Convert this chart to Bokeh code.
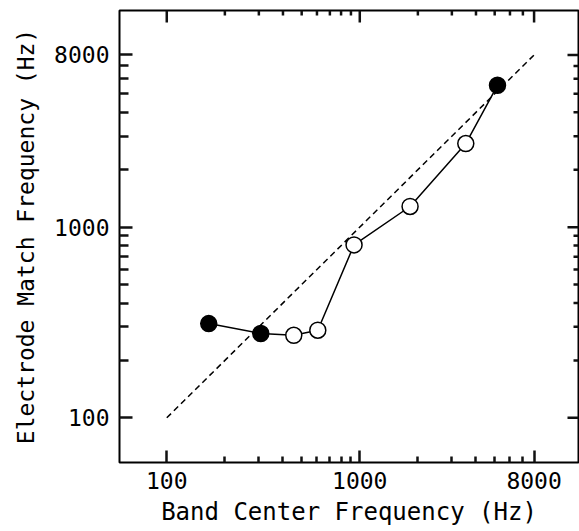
import math
from bokeh.plotting import figure
from bokeh.models import FixedTicker, Range1d
from bokeh.embed import file_html
from bokeh.resources import INLINE

# Data
band_center = [165, 307, 455, 606, 934, 1822, 3542, 5170]
match_freq = [312, 277, 271, 288, 807, 1283, 2744, 5544]
filled = [True, True, False, False, False, False, False, True]
identity_x = [100, 8000]
identity_y = [100, 8000]
tick_values = [100, 1000, 8000]
tick_labels = ["100", "1000", "8000"]
minor_values = [200, 300, 400, 500, 600, 700, 800, 900,
                2000, 3000, 4000, 5000, 6000, 7000]
x_label = "Band Center Frequency (Hz)"
y_label = "Electrode Match Frequency (Hz)"

FONT = "DejaVu Sans Mono"
TICK = "#111111"
W, H = 579, 531
BL, BR, BT, BB = 119, 1, 10, 69

x_range = Range1d(56.9, 13590)
y_range = Range1d(58.3, 13680)

p = figure(width=W, height=H, x_axis_type="log", y_axis_type="log",
           x_range=x_range, y_range=y_range,
           output_backend="svg", toolbar_location=None,
           min_border_left=BL, min_border_right=BR, min_border_top=BT,
           min_border_bottom=BB, x_axis_label=x_label, y_axis_label=y_label)

p.grid.visible = False
p.outline_line_color = "black"
p.outline_line_width = 2

overrides = {v: t for v, t in zip(tick_values, tick_labels)}

xa = p.xaxis[0]
ya = p.yaxis[0]
for ax in (xa, ya):
    ax.ticker = FixedTicker(ticks=tick_values, minor_ticks=minor_values)
    ax.major_tick_out = 0
    ax.minor_tick_out = 0
    ax.major_tick_line_color = TICK
    ax.minor_tick_line_color = TICK
    ax.major_tick_line_width = 2.5
    ax.minor_tick_line_width = 2.5
    ax.major_label_overrides = overrides
    ax.major_label_text_font = FONT
    ax.major_label_text_font_size = "23px"
    ax.major_label_text_color = "black"
    ax.axis_label_text_font = FONT
    ax.axis_label_text_font_style = "normal"
    ax.axis_label_text_color = "black"
xa.major_tick_in = 12
xa.minor_tick_in = 6
ya.major_tick_in = 13
ya.minor_tick_in = 9
xa.major_label_standoff = 9
ya.major_label_standoff = 10
xa.axis_label_text_font_size = "24px"
ya.axis_label_text_font_size = "23px"
xa.axis_label_standoff = 6
ya.axis_label_standoff = 12

# Inward ticks on the top and right frame edges, drawn as segments whose data
# length corresponds to the wanted pixel length on the log scales.
px_per_dec_x = (W - BL - BR) / math.log10(x_range.end / x_range.start)
px_per_dec_y = (H - BT - BB) / math.log10(y_range.end / y_range.start)

def fx(px):
    return 10 ** (px / px_per_dec_x)

def fy(px):
    return 10 ** (px / px_per_dec_y)

def vticks(vals, y0, y1):
    p.segment(x0=vals, y0=[y0] * len(vals), x1=vals, y1=[y1] * len(vals),
              line_color=TICK, line_width=2.5)

def hticks(vals, x0, x1):
    p.segment(x0=[x0] * len(vals), y0=vals, x1=[x1] * len(vals), y1=vals,
              line_color=TICK, line_width=2.5)

yhi = y_range.end
xhi = x_range.end
vticks(tick_values, yhi, yhi / fy(12))
vticks(minor_values, yhi, yhi / fy(5))
hticks(tick_values, xhi, xhi / fx(11))
hticks(minor_values, xhi, xhi / fx(5))

# identity (dashed) line
p.line(identity_x, identity_y, line_color="black", line_width=1.5, line_dash="6 4")
# data line
p.line(band_center, match_freq, line_color="black", line_width=1.5)

fx_ = [x for x, f in zip(band_center, filled) if f]
fy_ = [y for y, f in zip(match_freq, filled) if f]
ox = [x for x, f in zip(band_center, filled) if not f]
oy = [y for y, f in zip(match_freq, filled) if not f]
p.scatter(ox, oy, size=16, marker="circle", fill_color="white",
          line_color="black", line_width=1.5)
p.scatter(fx_, fy_, size=16, marker="circle", fill_color="black",
          line_color="black", line_width=1.5)

open("out.html", "w").write(file_html(p, INLINE))
